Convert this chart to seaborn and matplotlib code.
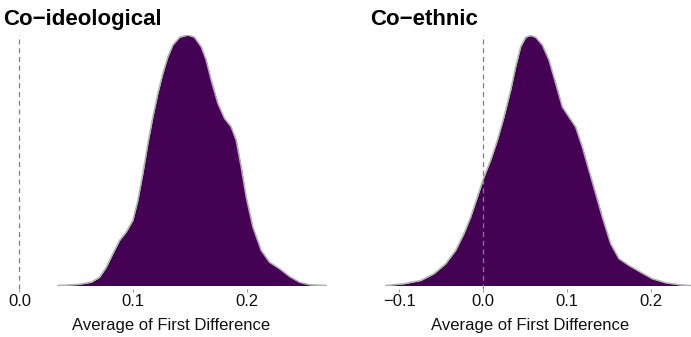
import numpy as np
import pandas as pd
import matplotlib
matplotlib.use("Agg")
import matplotlib.pyplot as plt
import seaborn as sns

# Posterior density of the average first difference (relative height)
ideo_x = [0.0338, 0.0514, 0.0631, 0.0704, 0.0763, 0.0821, 0.0880, 0.0938, 0.0997, 0.1041,
          0.1085, 0.1129, 0.1173, 0.1217, 0.1261, 0.1305, 0.1349, 0.1407, 0.1481, 0.1539,
          0.1598, 0.1642, 0.1686, 0.1745, 0.1803, 0.1862, 0.1906, 0.1950, 0.1994, 0.2053,
          0.2126, 0.2199, 0.2287, 0.2375, 0.2463, 0.2551, 0.2697]
ideo_y = [0.0, 0.004, 0.013, 0.033, 0.073, 0.127, 0.18, 0.213, 0.26, 0.34,
          0.447, 0.567, 0.673, 0.767, 0.847, 0.913, 0.96, 0.991, 1.0, 0.991,
          0.953, 0.90, 0.82, 0.727, 0.667, 0.633, 0.58, 0.473, 0.353, 0.233,
          0.14, 0.093, 0.067, 0.036, 0.013, 0.003, 0.0]

ethnic_x = [-0.1161, -0.0943, -0.0743, -0.0585, -0.0445, -0.0326, -0.0227, -0.0147, -0.0067, 0.0012,
            0.0092, 0.0172, 0.0251, 0.0331, 0.0390, 0.0450, 0.0510, 0.0569, 0.0629, 0.0709,
            0.0788, 0.0868, 0.0947, 0.1026, 0.1106, 0.1186, 0.1265, 0.1345, 0.1425, 0.1524,
            0.1623, 0.1742, 0.1882, 0.2021, 0.2180, 0.2339, 0.2479]
ethnic_y = [0.0, 0.007, 0.02, 0.047, 0.087, 0.14, 0.207, 0.273, 0.353, 0.433,
            0.50, 0.58, 0.673, 0.78, 0.873, 0.953, 0.991, 0.998, 0.991, 0.96,
            0.90, 0.807, 0.713, 0.673, 0.633, 0.553, 0.46, 0.367, 0.273, 0.167,
            0.107, 0.08, 0.053, 0.027, 0.011, 0.003, 0.0]

titles = ["Co\u2212ideological", "Co\u2212ethnic"]
ticks_ideo = [0.0, 0.1, 0.2]
ticks_ethnic = [-0.1, 0.0, 0.1, 0.2]
xlabel = "Average of First Difference"

sns.set_theme(style="white")
plt.rcParams["font.family"] = ["Liberation Sans", "DejaVu Sans"]

fill_color = "#440154"
edge_color = "#b3b3b3"
text_color = "#111111"

fig = plt.figure(figsize=(6.91, 3.37), dpi=100)
bottom, height = 48 / 337, 254 / 337
ax_l = fig.add_axes([3 / 691, bottom, 337 / 691, height])
ax_r = fig.add_axes([370 / 691, bottom, 321 / 691, height])

panels = [
    (ax_l, ideo_x, ideo_y, titles[0], ticks_ideo, (-0.0145, 0.2819)),
    (ax_r, ethnic_x, ethnic_y, titles[1], ticks_ethnic, (-0.1348, 0.2483)),
]

for ax, xs, ys, title, ticks, xlim in panels:
    df = pd.DataFrame({"x": xs, "density": ys})
    ax.fill_between(df["x"], 0, df["density"], color=fill_color, linewidth=0, zorder=1)
    sns.lineplot(data=df, x="x", y="density", ax=ax, color=edge_color,
                 linewidth=1.1, zorder=2, sort=False)
    ax.axvline(0, color="#808080", linestyle=(0, (4, 3)), linewidth=0.9, zorder=3)
    ax.set_xlim(*xlim)
    ax.set_ylim(-0.014, 1.0)
    ax.set_xticks(ticks)
    ax.set_xticklabels([f"{t:.1f}".replace("-", "\u2212") for t in ticks])
    ax.set_yticks([])
    ax.set_ylabel("")
    ax.set_xlabel(xlabel, fontsize=12, labelpad=7, color=text_color)
    ax.tick_params(axis="x", bottom=True, length=2.3, width=0.8, color="#999999",
                   labelsize=12, labelcolor=text_color, pad=1)
    for s in ax.spines.values():
        s.set_visible(False)
    ax.set_facecolor("white")
    ax.set_title(title, loc="left", fontsize=16, fontweight="bold", pad=7, x=0.0,
                 color="black")

fig.savefig("out.png", dpi=100)
